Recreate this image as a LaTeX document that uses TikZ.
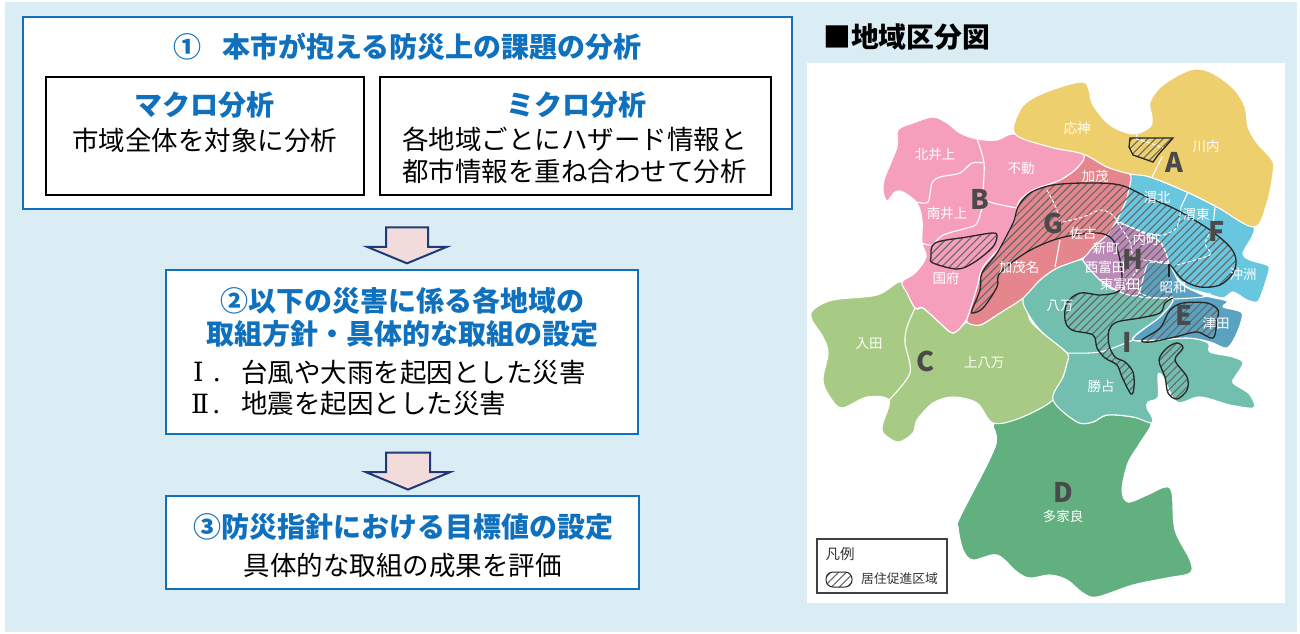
\documentclass[tikz,border=0pt]{standalone}
\usepackage{fontspec}
\setmainfont{Noto Sans CJK JP}
\newfontfamily\romanfont{DejaVu Serif}
\usetikzlibrary{patterns.meta,shapes.arrows}
\definecolor{panelbg}{HTML}{DAEDF4}
\definecolor{headblue}{HTML}{0F70BE}
\definecolor{arrownavy}{HTML}{1F3A78}
\definecolor{arrowpink}{HTML}{F1DCDB}
\definecolor{zoneA}{HTML}{EDCF6E}
\definecolor{zoneB}{HTML}{F59FBC}
\definecolor{zoneC}{HTML}{A7CB85}
\definecolor{zoneD}{HTML}{62AF7F}
\definecolor{zoneE}{HTML}{5BA2C1}
\definecolor{zoneF}{HTML}{68C6DF}
\definecolor{zoneG}{HTML}{E5868E}
\definecolor{zoneH}{HTML}{BC8AB9}
\definecolor{zoneI}{HTML}{72BFB0}
\definecolor{lettergray}{HTML}{4A4A4A}
\begin{document}
\begin{tikzpicture}[x=1pt, y=-1pt,
  bluebox/.style={draw=headblue, fill=white, line width=2.5pt, inner sep=0pt, outer sep=0pt},
  blackbox/.style={draw=black, fill=white, line width=2.5pt, inner sep=0pt, outer sep=0pt},
  head/.style={text=headblue, inner sep=0pt, font=\fontsize{28}{32}\bfseries\selectfont},
  body/.style={text=black, inner sep=0pt, font=\fontsize{26.5}{30}\selectfont},
  blockarrow/.style={single arrow, rotate=-90, draw=arrownavy, fill=arrowpink, line width=2pt,
    single arrow tip angle=135, inner sep=0pt, outer sep=0pt},
  region/.style={draw=white, line width=1.1pt, line join=round},
  border/.style={draw=white, line width=1.1pt},
  dashborder/.style={draw=white, line width=1pt, dash pattern=on 3.5pt off 2pt},
  hatched/.style={draw=black!85, line width=1.3pt, pattern={Lines[angle=45, distance=5.5pt, line width=1.1pt]}, pattern color=black!60},
  place/.style={text=white, inner sep=0pt, font=\fontsize{13.5}{15}\selectfont},
  letter/.style={text=lettergray, inner sep=0pt, font=\fontsize{27}{30}\bfseries\selectfont}]
  \useasboundingbox (0,0) rectangle (1300,633);
  \fill[panelbg] (5,2) rectangle (1297,632);
  \fill[white] (807,63) rectangle (1285,603);

  \node[bluebox, minimum width=769pt, minimum height=192pt] (box1) at (407.5,113) {};
  \node[blackbox, minimum width=318pt, minimum height=118pt] (macro) at (205,136) {};
  \node[blackbox, minimum width=391pt, minimum height=118pt] (micro) at (575.5,136) {};
  \node[bluebox, minimum width=472pt, minimum height=164pt] (box2) at (402,352) {};
  \node[bluebox, minimum width=473pt, minimum height=93pt] (box3) at (402.5,542.5) {};
  \node[blockarrow, minimum height=36pt, single arrow head extend=19pt] (arrow1) at (407,241) {\rule{0pt}{40pt}};
  \node[blockarrow, minimum height=37pt, single arrow head extend=20pt] (arrow2) at (408,466.5) {\rule{0pt}{42pt}};

  \node[head, anchor=west] (num1) at (173,47) {①};
  \node[head, anchor=west] (title1) at (222,47) {本市が抱える防災上の課題の分析};
  \node[head] (macrohead) at (204,105) {マクロ分析};
  \node[body] (macrotext) at (204.5,140) {市域全体を対象に分析};
  \node[head] (microhead) at (576,105) {ミクロ分析};
  \node[body] (microtext1) at (574.5,139) {各地域ごとにハザード情報と};
  \node[body] (microtext2) at (574.5,171) {都市情報を重ね合わせて分析};
  \node[head] (title2a) at (402,301) {②以下の災害に係る各地域の};
  \node[head] (title2b) at (402,334) {取組方針・具体的な取組の設定};
  \node[body, anchor=west, font=\fontsize{26.5}{30}\romanfont] (roman1) at (193,372) {Ⅰ\kern9pt.};
  \node[body, anchor=west] (item1) at (241,372) {台風や大雨を起因とした災害};
  \node[body, anchor=west, font=\fontsize{26.5}{30}\romanfont] (roman2) at (191,404) {Ⅱ\kern3pt.};
  \node[body, anchor=west] (item2) at (241,404) {地震を起因とした災害};
  \node[head] (title3) at (403,527) {③防災指針における目標値の設定};
  \node[body] (text3) at (402.5,565) {具体的な取組の成果を評価};
  \node[text=black, inner sep=0pt, anchor=west, font=\fontsize{27.8}{30}\bfseries\selectfont] (maptitle) at (823,37) {■地域区分図};

  \draw[region, fill=zoneD] plot[smooth cycle, tension=.55] coordinates {(994,423) (1020,418) (1053,400) (1077,422) (1093,422) (1107,415) (1133,417) (1151,423) (1140,443) (1128,463) (1122,490) (1128,502) (1147,495) (1165,487) (1172,493) (1175,530) (1190,560) (1190,573) (1167,578) (1133,585) (1097,597) (1083,593) (1067,580) (1050,575) (1030,578) (1017,572) (997,555) (973,560) (963,550) (958,527) (960,517) (995,447)};
  \draw[region, fill=zoneC] plot[smooth cycle, tension=.55] coordinates {(902,282) (877,295) (833,300) (813,310) (812,320) (823,337) (828,353) (823,380) (830,397) (842,408) (867,397) (889,400) (883,423) (883,433) (898,442) (913,433) (917,420) (933,403) (953,397) (977,403) (993,423) (1020,418) (1053,400) (1063,377) (1067,363) (1067,353) (1043,333) (1030,320) (1023,298) (1000,313) (980,325) (967,322) (953,333) (940,323) (923,308) (915,308)};
  \draw[region, fill=zoneI] plot[smooth cycle, tension=.55] coordinates {(1083,260) (1057,268) (1040,280) (1023,298) (1030,317) (1043,333) (1067,353) (1067,363) (1063,377) (1053,400) (1077,422) (1093,422) (1107,415) (1133,417) (1151,423) (1152,417) (1147,408) (1148,402) (1158,397) (1158,375) (1163,377) (1177,402) (1200,397) (1230,405) (1253,408) (1253,400) (1247,392) (1233,383) (1235,377) (1243,363) (1233,357) (1210,352) (1208,343) (1187,338) (1133,340) (1160,317) (1173,301) (1163,298) (1138,295) (1120,292) (1100,280)};
  \draw[region, fill=zoneF] plot[smooth cycle, tension=.45] coordinates {(1130,174) (1150,177) (1187,192) (1217,207) (1254,227) (1243,253) (1250,260) (1267,265) (1269,270) (1262,293) (1257,302) (1247,300) (1233,292) (1223,298) (1205,293) (1187,287) (1173,273) (1169,264) (1160,242) (1130,227) (1117,222) (1128,193)};
  \draw[region, fill=zoneE] plot[smooth cycle, tension=.45] coordinates {(1148,263) (1168,263) (1180,283) (1203,295) (1227,301) (1223,307) (1242,313) (1237,333) (1227,348) (1210,342) (1187,338) (1133,340) (1160,317) (1173,301) (1163,298) (1138,295)};
  \draw[region, fill=zoneH] plot[smooth cycle, tension=.35] coordinates {(1117,222) (1130,227) (1160,242) (1168,263) (1148,263) (1138,295) (1120,292) (1100,280) (1083,260) (1093,247) (1107,235)};
  \draw[region, fill=zoneG] plot[smooth cycle, tension=.5] coordinates {(1083,154) (1107,167) (1130,174) (1128,193) (1125,203) (1117,220) (1107,235) (1093,247) (1083,258) (1057,268) (1040,280) (1023,298) (1000,313) (980,325) (967,322) (970,310) (977,287) (983,267) (1000,247) (1013,223) (1017,208) (1020,200) (1033,190) (1060,180) (1078,167)};
  \draw[region, fill=zoneB] plot[smooth cycle, tension=.55] coordinates {(898,130) (913,123) (933,117) (947,123) (960,133) (977,139) (997,140) (1015,134) (1050,147) (1083,154) (1078,167) (1060,180) (1033,190) (1020,200) (1017,208) (1013,223) (1000,247) (983,267) (977,287) (970,310) (965,322) (953,333) (940,323) (923,308) (915,308) (907,293) (902,282) (915,273) (926,257) (922,243) (922,220) (917,203) (903,192) (895,192) (887,201) (883,190) (885,177) (897,147)};
  \draw[region, fill=zoneA] plot[smooth cycle, tension=.55] coordinates {(1015,134) (1020,110) (1033,98) (1060,87) (1083,82) (1089,90) (1093,105) (1110,125) (1133,134) (1150,127) (1152,117) (1150,102) (1163,85) (1190,70) (1210,72) (1233,88) (1245,107) (1248,127) (1257,143) (1272,160) (1273,173) (1267,203) (1254,227) (1217,207) (1187,192) (1150,177) (1130,174) (1107,167) (1083,154) (1050,147)};

  \draw[border] plot[smooth] coordinates {(977,139) (984,163) (983,193) (984,200) (977,223) (967,228) (943,235) (932,245) (922,243)};
  \draw[border] plot[smooth] coordinates {(917,202) (928,202) (932,183) (940,177) (960,173) (972,163) (984,163)};
  \draw[border] plot[smooth] coordinates {(984,200) (997,204) (1017,208)};
  \draw[border] plot[smooth] coordinates {(915,308) (907,327) (905,343) (910,373) (889,400)};
  \draw[border] plot[smooth] coordinates {(1067,353) (1100,352) (1133,340)};
  \draw[border] plot[smooth] coordinates {(1060,240) (1055,267)};
  \draw[border] (1137,134) -- (1136,139);
  \draw[border] (1162,157) -- (1152,177);
  \draw[border] (1188,192) -- (1181,207);
  \draw[border] (1215,207) -- (1213,225);
  \draw[border] plot[smooth] coordinates {(1173,299) (1203,297) (1210,293)};

  \draw[hatched] (1130,138) -- (1173,138) -- (1158,155) -- (1153,162) -- (1133,155) -- (1129,147) -- cycle;
  \draw[hatched] plot[smooth cycle, tension=.55] coordinates {(935,243) (967,237) (993,233) (997,237) (992,248) (973,263) (957,269) (933,263) (931,257)};
  \draw[hatched] plot[smooth, tension=.55] coordinates {(1169,264) (1172,267) (1183,280) (1200,287) (1220,285) (1233,273) (1236,260) (1230,247) (1210,230) (1177,210) (1147,197) (1120,185) (1087,183) (1053,185) (1030,193) (1018,207) (1013,223) (997,253) (982,273) (980,290) (972,310) (973,313) (983,308) (997,287) (1000,273) (1027,252) (1060,238) (1097,233) (1113,240) (1120,260) (1122,283) (1117,292) (1100,295) (1080,293) (1067,303) (1065,320) (1072,330) (1093,335) (1097,348) (1105,358) (1117,365) (1122,377) (1131,394) (1134,387) (1133,372) (1125,362) (1115,357) (1109,345) (1109,330) (1117,322) (1140,318) (1160,313) (1165,303) (1173,298)};
  \draw[draw=black!85, line width=1.3pt] (1169,264) -- (1169,277);
  \draw[hatched] plot[smooth cycle, tension=.55] coordinates {(1142,340) (1160,328) (1170,310) (1183,303) (1207,303) (1218,310) (1217,320) (1213,338) (1197,332) (1175,337) (1150,342)};
  \draw[hatched] plot[smooth cycle, tension=.55] coordinates {(1177,343) (1183,348) (1175,360) (1187,377) (1187,390) (1177,399) (1168,393) (1165,377) (1159,360) (1167,348)};

  \draw[dashborder] plot[smooth] coordinates {(1136,139) (1150,143) (1163,148)};
  \draw[dashborder] plot[smooth] coordinates {(1047,190) (1057,210) (1060,227)};
  \draw[dashborder] plot[smooth] coordinates {(1063,222) (1083,217) (1100,210) (1110,213) (1117,220)};
  \draw[dashborder] plot[smooth] coordinates {(1181,207) (1177,227) (1163,235) (1147,233) (1117,222)};
  \draw[dashborder] plot[smooth] coordinates {(1215,225) (1205,243) (1211,253) (1205,257) (1177,265)};
  \draw[dashborder] plot[smooth] coordinates {(1117,222) (1130,242) (1135,258) (1168,262)};
  \draw[dashborder] plot[smooth] coordinates {(1135,258) (1137,270) (1120,292)};
  \draw[dashborder] plot[smooth] coordinates {(1138,292) (1153,298) (1173,297)};

  \node[place] (ohjin) at (1077,128) {応神};
  \node[place] (kawauchi) at (1206,146) {川内};
  \node[place] (fudo) at (1021,168) {不動};
  \node[place] (kitaigami) at (935,154) {北井上};
  \node[place] (kamo) at (1095,176) {加茂};
  \node[place] (minamiigami) at (947,213) {南井上};
  \node[place] (ihoku) at (1157,197) {渭北};
  \node[place] (ito) at (1196,214) {渭東};
  \node[place] (sako) at (1083,233) {佐古};
  \node[place] (uchimachi) at (1146,239) {内町};
  \node[place] (shinmachi) at (1106,248) {新町};
  \node[place] (nishitomida) at (1105,267) {西富田};
  \node[place] (kamona) at (1019,267) {加茂名};
  \node[place] (kokufu) at (946,278) {国府};
  \node[place] (higashitomida) at (1120,284) {東富田};
  \node[place] (showa) at (1173,287) {昭和};
  \node[place] (okinosu) at (1243,274) {沖洲};
  \node[place] (hachiman) at (1060,306) {八万};
  \node[place] (tsuda) at (1216,323) {津田};
  \node[place] (nyuta) at (869,344) {入田};
  \node[place] (kamihachiman) at (984,362) {上八万};
  \node[place] (katsura) at (1101,386) {勝占};
  \node[place] (takara) at (1063,516) {多家良};

  \node[letter] (A) at (1174,162) {A};
  \node[letter] (B) at (980,199) {B};
  \node[letter] (C) at (925,361) {C};
  \node[letter] (D) at (1063,492) {D};
  \node[letter] (E) at (1184,315) {E};
  \node[letter] (F) at (1217,231) {F};
  \node[letter] (G) at (1053,223) {G};
  \node[letter] (H) at (1133,259) {H};
  \node[letter] (I) at (1127,342) {I};

  \node[draw=black!75, fill=white, line width=1.5pt, minimum width=130pt, minimum height=54pt, inner sep=0pt, outer sep=0pt] (legend) at (882,566) {};
  \node[text=black!80, inner sep=0pt, font=\fontsize{14.5}{16}\selectfont] (legendtitle) at (840,554) {凡例};
  \draw[hatched, line width=1pt, rounded corners=7pt] (826,572) rectangle (852,587);
  \node[text=black!80, inner sep=0pt, anchor=west, font=\fontsize{12.8}{15}\selectfont] (legendtext) at (861,579) {居住促進区域};
\end{tikzpicture}
\end{document}
